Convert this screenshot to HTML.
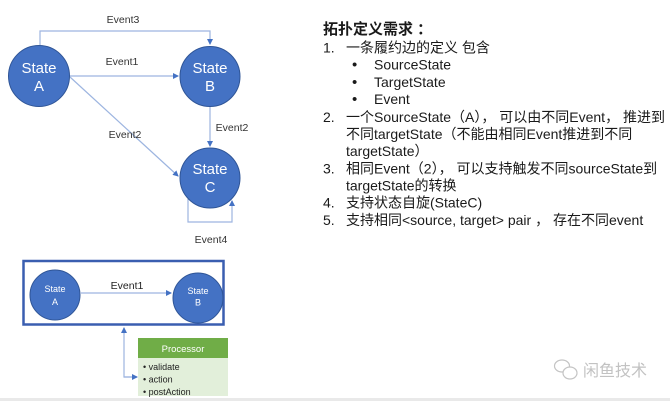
<!DOCTYPE html>
<html><head><meta charset="utf-8"><style>
html,body{margin:0;padding:0;background:#fff;}
svg{display:block;}
text{font-family:"Liberation Sans","Noto Sans CJK SC",sans-serif;}
</style></head><body>
<svg width="670" height="401" viewBox="0 0 670 401" xmlns="http://www.w3.org/2000/svg">
<defs>
<marker id="ar" markerWidth="6" markerHeight="6" refX="5" refY="3" orient="auto" markerUnits="userSpaceOnUse">
<path d="M0,0 L6,3 L0,6 z" fill="#4472c4"/>
</marker>
</defs>
<rect x="0" y="0" width="670" height="401" fill="#fff"/>
<rect x="0" y="398" width="670" height="3" fill="#e9e9e9"/>

<!-- top diagram connectors -->
<g fill="none" stroke="#9db5e0" stroke-width="1.2">
<polyline points="40,45 40,31 210,31 210,44" marker-end="url(#ar)"/>
<line x1="70" y1="76" x2="178" y2="76" marker-end="url(#ar)"/>
<line x1="70" y1="77" x2="178" y2="176" marker-end="url(#ar)"/>
<line x1="210" y1="106" x2="210" y2="146" marker-end="url(#ar)"/>
<polyline points="188,199 188,222 232,222 232,201" marker-end="url(#ar)"/>
</g>
<g fill="#4472c4" stroke="#2f5597" stroke-width="1">
<circle cx="39" cy="76" r="30.5"/>
<circle cx="210" cy="76.5" r="30"/>
<circle cx="210" cy="178" r="30"/>
</g>
<g fill="#fff" font-size="15" text-anchor="middle">
<text x="39" y="73">State</text><text x="39" y="91">A</text>
<text x="210" y="73">State</text><text x="210" y="91">B</text>
<text x="210" y="174">State</text><text x="210" y="192">C</text>
</g>
<g fill="#333" font-size="10.5" text-anchor="middle">
<text x="123" y="23">Event3</text>
<text x="122" y="65">Event1</text>
<text x="125" y="138">Event2</text>
<text x="232" y="131">Event2</text>
<text x="211" y="243">Event4</text>
</g>

<!-- bottom diagram -->
<rect x="23.5" y="261" width="200" height="63.5" fill="#fff" stroke="#3a5eb0" stroke-width="2.5"/>
<line x1="81" y1="293" x2="171" y2="293" stroke="#9db5e0" stroke-width="1.2" marker-end="url(#ar)"/>
<circle cx="55" cy="295" r="25" fill="#4472c4" stroke="#2f5597" stroke-width="1"/>
<circle cx="198" cy="298" r="25" fill="#4472c4" stroke="#2f5597" stroke-width="1"/>
<g fill="#fff" font-size="9" text-anchor="middle">
<text x="55" y="292">State</text><text x="55" y="305">A</text>
<text x="198" y="294">State</text><text x="198" y="305.5">B</text>
</g>
<text x="127" y="289" fill="#222" font-size="10.5" text-anchor="middle">Event1</text>
<polyline points="137,377 124,377 124,328" fill="none" stroke="#9db5e0" stroke-width="1.2" marker-end="url(#ar)"/>
<line x1="124" y1="377" x2="137" y2="377" stroke="#9db5e0" stroke-width="1.2" marker-end="url(#ar)"/>
<rect x="138" y="338" width="90" height="58" fill="#e2efda"/>
<rect x="138" y="338" width="90" height="20" fill="#70ad47"/>
<text x="183" y="352" fill="#fff" font-size="9.5" text-anchor="middle">Processor</text>
<g fill="#222" font-size="9">
<text x="143" y="370">• validate</text>
<text x="143" y="382.5">• action</text>
<text x="143" y="395">• postAction</text>
</g>

<!-- right text -->
<g fill="#1a1a1a" font-size="14">
<text x="323" y="34" font-size="15" font-weight="bold">拓扑定义需求 ：</text>
<text x="323" y="52.5">1.</text><text x="346" y="52.5">一条履约边的定义 包含</text>
<text x="352" y="69.7" font-size="15">•</text><text x="374" y="69.7">SourceState</text>
<text x="352" y="86.9" font-size="15">•</text><text x="374" y="86.9">TargetState</text>
<text x="352" y="104.1" font-size="15">•</text><text x="374" y="104.1">Event</text>
<text x="323" y="122">2.</text><text x="346" y="122">一个SourceState（A）， 可以由不同Event， 推进到</text>
<text x="346" y="139">不同targetState（不能由相同Event推进到不同</text>
<text x="346" y="156">targetState）</text>
<text x="323" y="173.5">3.</text><text x="346" y="173.5">相同Event（2）， 可以支持触发不同sourceState到</text>
<text x="346" y="190.5">targetState的转换</text>
<text x="323" y="207.5">4.</text><text x="346" y="207.5">支持状态自旋(StateC)</text>
<text x="323" y="225">5.</text><text x="346" y="225">支持相同&lt;source, target&gt; pair ， 存在不同event</text>
</g>

<!-- watermark -->
<g fill="none" stroke="#c4c4c4" stroke-width="1.2">
<ellipse cx="562" cy="366" rx="7.5" ry="6"/>
<ellipse cx="570" cy="373" rx="7" ry="6" fill="#fff"/>
</g>
<text x="583" y="376" fill="#c2c2c2" font-size="16" font-family="'Noto Sans CJK SC',sans-serif">闲鱼技术</text>
</svg>
</body></html>
